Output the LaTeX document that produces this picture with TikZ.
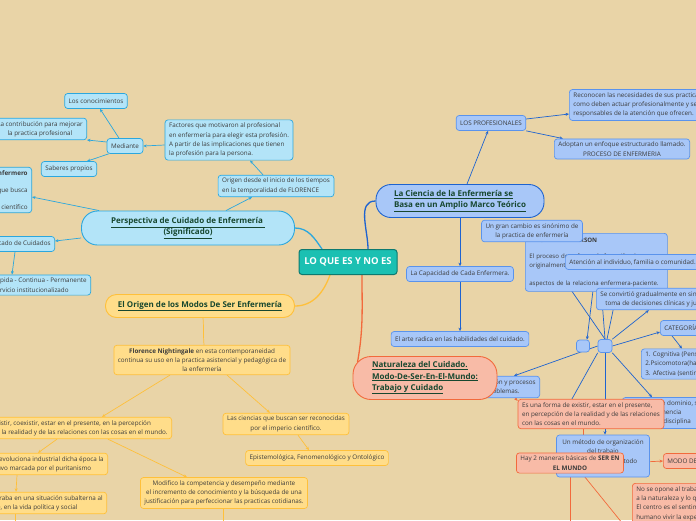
\documentclass[tikz,border=0pt]{standalone}
\usepackage{fontspec}
\setmainfont{Open Sans}
\usetikzlibrary{arrows.meta, positioning}
\pgfdeclarelayer{bg}
\pgfdeclarelayer{links}
\pgfsetlayers{bg,links,main}
\definecolor{bgbeige}{HTML}{E9D4A7}
\definecolor{rootteal}{HTML}{1BC0B2}
\definecolor{rootdark}{HTML}{0D7A70}
\definecolor{cyanfill}{HTML}{B3E4F8}
\definecolor{cyanline}{HTML}{2BA7DE}
\definecolor{yelfill}{HTML}{FFDD8A}
\definecolor{yelline}{HTML}{FFC03A}
\definecolor{bluefill}{HTML}{A8C7F8}
\definecolor{blueline}{HTML}{5A93EC}
\definecolor{bluedark}{HTML}{1E63D0}
\definecolor{salfill}{HTML}{F8BBA7}
\definecolor{salline}{HTML}{F26A3C}
\definecolor{titlegreen}{HTML}{17472F}
\definecolor{textgray}{HTML}{3B3B3B}
\newcommand{\topicul}[1]{\underline{#1}}

\begin{document}
\begin{tikzpicture}[
    x=1pt, y=-1pt,
    box/.style={draw, rounded corners=3pt, inner xsep=4pt, inner ysep=3pt, line width=0.7pt,
        font=\fontsize{6.3}{9.3}\selectfont, text=textgray, align=center, minimum height=15},
    cbox/.style={box, fill=cyanfill, draw=cyanline},
    ybox/.style={box, fill=yelfill, draw=yelline},
    bbox/.style={box, fill=bluefill, draw=blueline},
    sbox/.style={box, fill=salfill, draw=salline},
    topic/.style={draw, line width=0.9pt, font=\bfseries\fontsize{8}{11.2}\selectfont, text=titlegreen, align=center},
    root/.style={draw=rootdark, fill=rootteal, line width=1pt, rounded corners=3pt, text=white,
        font=\bfseries\fontsize{9.5}{11}\selectfont, minimum width=98, minimum height=25},
    tip/.style={-{Stealth[length=3.5pt,width=3pt]}, line width=0.7pt},
    carrow/.style={tip, cyanline},
    yarrow/.style={tip, yelline},
    barrow/.style={tip, bluedark},
    sarrow/.style={tip, salline},
    bline/.style={bluedark, line width=0.7pt},
    branch/.style={line width=1.3pt},
]
    \useasboundingbox (0,0) rectangle (696,520);
    \begin{pgfonlayer}{bg}
        \fill[bgbeige] (0,0) rectangle (696,520);
    \end{pgfonlayer}

    % Central topic
    \node[root] (root) at (348,262) {LO QUE ES Y NO ES};

    % Cyan branch: Perspectiva
    \node[topic, fill=cyanfill, draw=cyanline, minimum width=213, minimum height=34, rounded corners=16pt] (persp) at (188,228)
        {\topicul{Perspectiva de Cuidado de Enfermería }\\\topicul{(Significado)}};
    \node[cbox, align=left] (origen) at (276,186) {Origen desde el inicio de los tiempos\\en la temporalidad de FLORENCE};
    \node[cbox, align=left] (factores) at (229,140) {Factores que motivaron al profesional\\en enfermería para elegir esta profesión.\\A partir de las implicaciones que tienen\\la profesión para la persona.};
    \node[cbox] (mediante) at (125,146) {Mediante};
    \node[cbox] (conoc) at (96,101) {Los conocimientos};
    \node[cbox, anchor=east] (contrib) at (87,129) {La contribución para mejorar\\la practica profesional};
    \node[cbox] (saberes) at (69,169) {Saberes propios};
    \node[cbox, anchor=east, align=right] (enfermero) at (32,190) {\textbf{El Enfermero}\\[8pt]Profesional que busca\\[8pt]el saber científico};
    \node[cbox, anchor=east] (signif) at (55,244) {Significado de Cuidados};
    \node[cbox, anchor=east, align=left] (rapida) at (91,285) {Rápida - Continua - Permanente\\Servicio institucionalizado};

    % Yellow branch: Modos de ser
    \node[topic, fill=yelfill, draw=yelline, minimum width=189, minimum height=23, rounded corners=11pt] (modos) at (200,306)
        {\topicul{El Origen de los Modos De Ser Enfermería}};
    \node[ybox] (florence) at (202,360) {\textbf{Florence Nightingale} en esta contemporaneidad\\continua su uso en la practica asistencial y pedagógica de\\la enfermería};
    \node[ybox, anchor=east, align=left] (existir) at (172,428) {Existir, coexistir, estar en el presente, en la percepción\\de la realidad y de las relaciones con las cosas en el mundo.};
    \node[ybox] (ciencias) at (286,424) {Las ciencias que buscan ser reconocidas\\por el imperio científico.};
    \node[ybox] (episte) at (317,458) {Epistemológica, Fenomenológico y Ontológico};
    \node[ybox, anchor=east, align=left] (revol) at (108,464) {La revoluciona industrial dicha época la\\estuvo marcada por el puritanismo};
    \node[ybox] (modif) at (224,493) {Modifico la competencia y desempeño mediante\\el incremento de conocimiento y la búsqueda de una\\justificación para perfeccionar las practicas cotidianas.};
    \node[ybox, anchor=east, align=left] (subalt) at (107,503) {Se encontraba en una situación subalterna al\\el hombre, en la vida política y social};

    % Blue branch: La Ciencia
    \node[topic, fill=bluefill, draw=bluedark, align=left, minimum width=168, minimum height=33, rounded corners=15pt] (ciencia) at (460,201)
        {\topicul{La Ciencia de la Enfermería se}\\\topicul{Basa en un Amplio Marco Teórico}};
    \node[bbox] (profes) at (491,123) {LOS PROFESIONALES};
    \node[bbox, anchor=west, align=left] (reconocen) at (569,105) {Reconocen las necesidades de sus practicantes,\\como deben actuar profesionalmente y ser\\responsables de la atención que ofrecen.};
    \node[bbox] (adoptan) at (622,149) {Adoptan un enfoque estructurado llamado.\\PROCESO DE ENFERMERIA};
    \node[bbox, anchor=north west, align=left, text width=134, minimum height=58, font=\fontsize{6.1}{9}\selectfont] (hender) at (525,233)
        {\textbf{VIRGINIA HENDERSON}\\[7pt]El proceso de enfermería fue utilizado\\originalmente para identificar los\\[9pt]aspectos de la relaciona enfermera-paciente.};
    \node[bbox] (gran) at (532,231) {Un gran cambio es sinónimo de\\la practica de enfermería};
    \node[bbox, anchor=west] (atencion) at (565,262) {Atención al individuo, familia o comunidad.};
    \node[bbox] (capac) at (460,274) {La Capacidad de Cada Enfermera.};
    \node[bbox] (arte) at (460,339) {El arte radica en las habilidades del cuidado.};
    \node[bbox, anchor=west] (convirtio) at (596,299) {Se convirtió gradualmente en sinónimo de la\\toma de decisiones clínicas y juicio crítico};
    \node[bbox, minimum width=13, minimum height=12, inner sep=0pt] (sqa) at (583,346) {};
    \node[bbox, minimum width=14, minimum height=13, inner sep=0pt] (hub) at (605,346) {};
    \node[bbox, anchor=west] (categ) at (660,328) {CATEGORÍAS};
    \node[bbox, anchor=west, align=left] (cognit) at (641,364) {1. Cognitiva (Pensamiento)\\2.Psicomotora(habilidades)\\3. Afectiva (sentimientos)};
    \node[bbox, anchor=east, align=left] (procesos) at (540,387) {Análisis, evaluación y procesos\\para resolver problemas.};
    \node[bbox, anchor=west, align=left, minimum width=80] (dominio) at (622,413) {Un campo de dominio, su\\gran preeminencia\\dentro de la disciplina};
    \node[bbox, minimum width=93, minimum height=42] (metodo) at (603,456) {Un método de organización\\del trabajo\\apoyado en un método\\\mbox{}};

    % Salmon branch: Naturaleza
    \node[topic, fill=salfill, draw=salline, align=left, minimum width=144, minimum height=43, rounded corners=18pt] (natur) at (425,378)
        {\topicul{Naturaleza del Cuidado.}\\\topicul{Modo-De-Ser-En-El-Mundo:}\\\topicul{Trabajo y Cuidado}};
    \node[sbox, align=left] (forma) at (591,414) {Es una forma de existir, estar en el presente,\\en percepción de la realidad y de las relaciones\\con las cosas en el mundo.};
    \node[sbox] (hay) at (570,463) {Hay 2 maneras básicas de \textbf{SER EN}\\\textbf{EL MUNDO}};
    \node[sbox, anchor=west] (modo) at (663,461) {MODO DE SER};
    \node[sbox, anchor=north west, align=left] (opone) at (632,483) {No se opone al trabajo, se relaciona\\a la naturaleza y lo que nos rodea.\\El centro es el sentimiento\\humano vivir la experiencia};

    % Free ends below the page
    \coordinate (offmodif) at (223,545);
    \coordinate (offsub) at (15,545);
    \coordinate (offhaya) at (570,545);
    \coordinate (offhayb) at (640,545);

    \begin{pgfonlayer}{links}
        % Main branches
        \draw[branch, cyanline] ([xshift=-26]root.north) to[out=125,in=0] (persp.east);
        \draw[branch, yelline] ([xshift=-18]root.south) to[out=250,in=0] (modos.east);
        \draw[branch, bluedark] ([xshift=20]root.north) to[out=90,in=180] (ciencia.west);
        \draw[branch, salline] ([xshift=14]root.south) to[out=270,in=80] ([xshift=5,yshift=-6]natur.north west);

        % Cyan links
        \draw[carrow] ([xshift=38]persp.north) -- ([xshift=-24]origen.south);
        \draw[carrow] ([xshift=-13]origen.north) -- ([xshift=21]factores.south);
        \draw[carrow] ([yshift=-5]factores.west) -- (mediante.east);
        \draw[carrow] ([xshift=-6]mediante.north) -- ([xshift=4]conoc.south);
        \draw[carrow] ([yshift=4]mediante.west) -- ([yshift=-11]contrib.east);
        \draw[carrow] ([xshift=2]mediante.south west) -- ([xshift=18]saberes.north);
        \draw[carrow] ([xshift=18]persp.north west) -- ([yshift=-7]enfermero.east);
        \draw[carrow] ([yshift=-10]persp.west) -- ([yshift=3]signif.east);
        \draw[carrow] ([xshift=-40]signif.south east) -- ([xshift=-79]rapida.north east);

        % Yellow links
        \draw[yelline, line width=0.7pt] ([xshift=3]modos.south) to[out=-85,in=95] ([xshift=2]florence.north);
        \draw[yarrow] ([xshift=-32]florence.south) -- ([xshift=-70]existir.north east);
        \draw[yarrow] ([xshift=25]florence.south) -- ([xshift=-16]ciencias.north);
        \draw[yarrow] ([xshift=12]ciencias.south) -- ([xshift=-8]episte.north);
        \draw[yarrow] ([xshift=-115]existir.south east) -- ([xshift=-70]revol.north east);
        \draw[yarrow] ([xshift=-64]existir.south east) -- ([xshift=-37]modif.north);
        \draw[yarrow] ([xshift=-91]revol.south east) -- ([xshift=-91]subalt.north east);
        \draw[yelline, line width=0.7pt] ([xshift=-1]modif.south) -- (offmodif);
        \draw[yelline, line width=0.7pt] ([xshift=-92]subalt.south east) -- (offsub);

        % Blue links
        \draw[barrow] ([xshift=7]ciencia.north) -- ([xshift=-3]profes.south);
        \draw[barrow] ([yshift=4]profes.east) -- ([yshift=-9]reconocen.west);
        \draw[barrow] (profes.south east) -- ([xshift=-59]adoptan.north);
        \draw[barrow] (ciencia.south) -- (capac.north);
        \draw[barrow] (capac.south) -- (arte.north);
        \draw[barrow] ([xshift=-3.5]hender.south) -- ([xshift=4]sqa.north);
        \draw[bline] (hub.north) -- ([xshift=6]gran.south);
        \draw[bline] (hub.north) -- ([xshift=5]hender.south);
        \draw[bline] ([xshift=2]hub.north) -- ([xshift=-11]atencion.south);
        \draw[bline] (hub.south west) -- ([xshift=-19]forma.north);
        \draw[barrow] (hub.north east) -- ([xshift=-17]convirtio.south);
        \draw[barrow] (hub.east) -- ([yshift=-4]categ.west);
        \draw[barrow] (hub.west) -- ([xshift=-26]procesos.north east);
        \draw[barrow] (hub.south) -- ([xshift=2]metodo.north);
        \draw[barrow] (hub.south east) -- ([xshift=30]dominio.north west);
        \draw[barrow] ([xshift=12]categ.south west) -- ([xshift=41]cognit.north west);

        % Salmon links
        \draw[sarrow] (natur.east) -- ([yshift=-2]forma.north west);
        \draw[sarrow] ([xshift=-8]forma.south) -- ([xshift=13]hay.north);
        \draw[sarrow] (hay.east) -- (modo.west);
        \draw[salline, line width=0.7pt] (hay.south) -- (offhaya);
        \draw[salline, line width=0.7pt] ([xshift=12]hay.south) -- (offhayb);
    \end{pgfonlayer}
\end{tikzpicture}
\end{document}
